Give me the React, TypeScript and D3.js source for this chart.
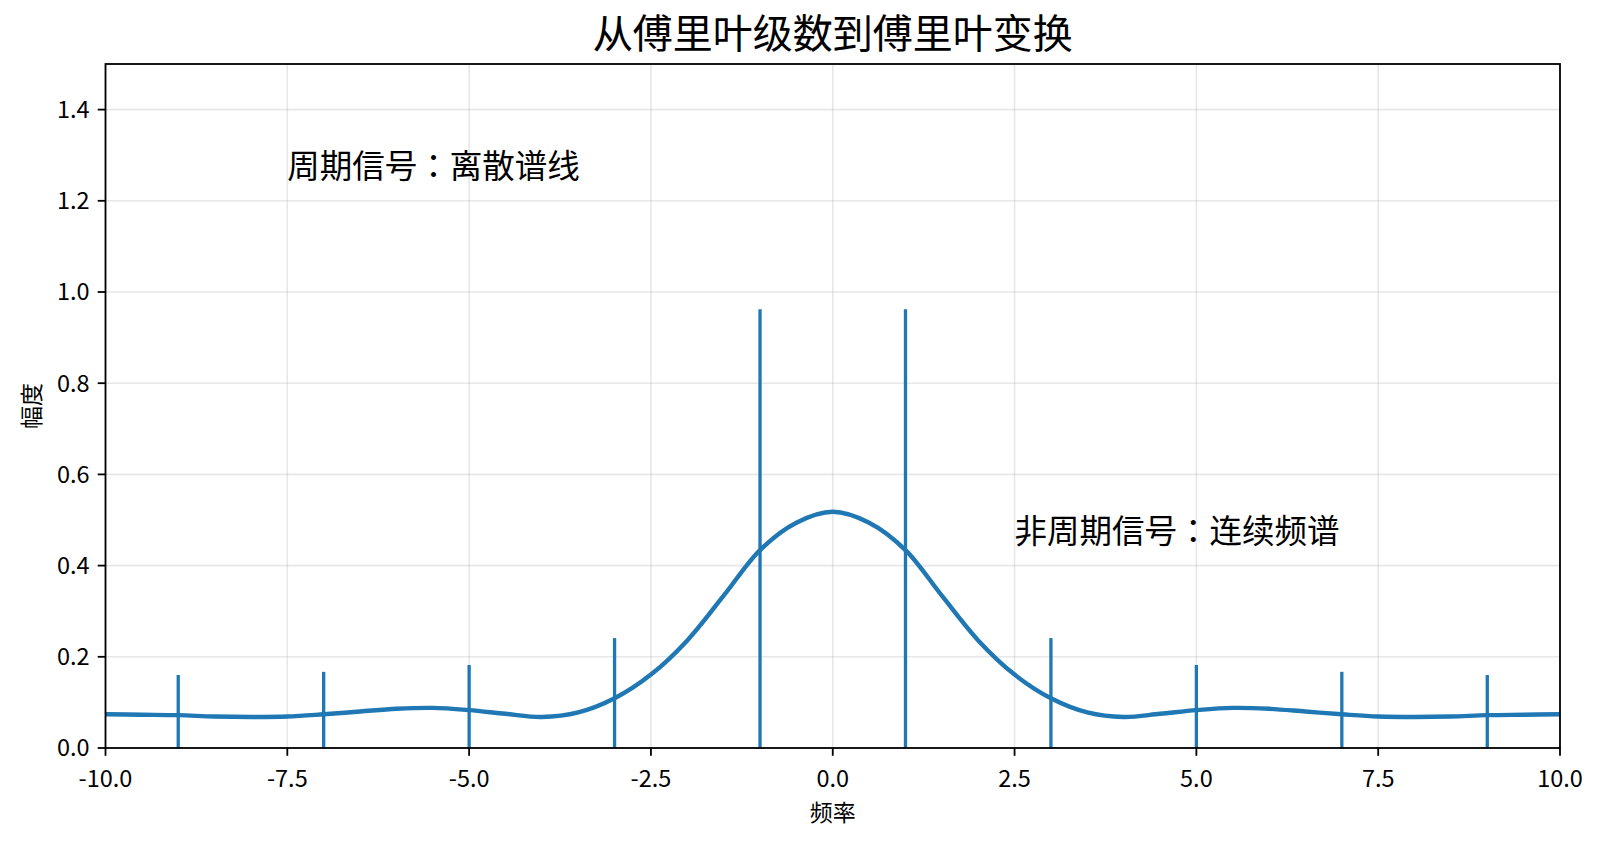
import React from "react";
import * as d3 from "d3";

// discrete spectrum lines (periodic signal)
const stemFreqs = [-9, -7, -5, -3, -1, 1, 3, 5, 7, 9];
const stemAmps = [0.16, 0.167, 0.182, 0.241, 0.962, 0.962, 0.241, 0.182, 0.167, 0.16];

// continuous spectrum (aperiodic signal), every 0.5
const curveFreqs = [
  -10, -9.5, -9, -8.5, -8, -7.5, -7, -6.5, -6, -5.5, -5, -4.5, -4, -3.5, -3, -2.5, -2, -1.5, -1, -0.5,
  0, 0.5, 1, 1.5, 2, 2.5, 3, 3.5, 4, 4.5, 5, 5.5, 6, 6.5, 7, 7.5, 8, 8.5, 9, 9.5, 10,
];
const curveAmps = [
  0.074, 0.073, 0.072, 0.069, 0.068, 0.069, 0.074, 0.08, 0.086, 0.088, 0.083, 0.075, 0.068, 0.078, 0.109,
  0.161, 0.236, 0.334, 0.434, 0.494, 0.518, 0.494, 0.434, 0.334, 0.236, 0.161, 0.109, 0.078, 0.068, 0.075,
  0.083, 0.088, 0.086, 0.08, 0.074, 0.069, 0.068, 0.069, 0.072, 0.073, 0.074,
];

const xTicks = [-10, -7.5, -5, -2.5, 0, 2.5, 5, 7.5, 10];
const yTicks = [0, 0.2, 0.4, 0.6, 0.8, 1.0, 1.2, 1.4];

const title = "从傅里叶级数到傅里叶变换";
const xLabel = "频率";
const yLabel = "幅度";
const notes = [
  { x: -7.5, y: 1.25, text: "周期信号：离散谱线" },
  { x: 2.5, y: 0.45, text: "非周期信号：连续频谱" },
];

const W = 1602;
const H = 846;
const margin = { top: 64, right: 42, bottom: 98, left: 105.5 };
const blue = "#1f77b4";
const font = "'Noto Sans CJK JP', 'Noto Sans CJK SC', 'Noto Sans', sans-serif";

export default function App() {
  const x = d3.scaleLinear().domain([-10, 10]).range([margin.left, W - margin.right]);
  const y = d3.scaleLinear().domain([0, 1.5]).range([H - margin.bottom, margin.top]);

  const pts = curveFreqs.map((f, i) => [f, curveAmps[i]] as [number, number]);
  const line = d3
    .line<[number, number]>()
    .x((d) => x(d[0]))
    .y((d) => y(d[1]))
    .curve(d3.curveCatmullRom.alpha(0.5));

  const x0 = x(-10), x1 = x(10), yb = y(0), yt = y(1.5);

  return (
    <div style={{ position: "fixed", left: 0, top: 0, width: W, height: H, background: "#fff" }}>
      <svg width={W} height={H} style={{ display: "block", fontFamily: font }}>
        <rect width={W} height={H} fill="#fff" />
        <defs>
          <clipPath id="plot">
            <rect x={x0} y={yt} width={x1 - x0} height={yb - yt} />
          </clipPath>
        </defs>

        {/* grid */}
        <g stroke="#b0b0b0" strokeOpacity={0.3} strokeWidth={1.6}>
          {xTicks.map((t) => (
            <line key={"gx" + t} x1={x(t)} x2={x(t)} y1={yt} y2={yb} />
          ))}
          {yTicks.map((t) => (
            <line key={"gy" + t} x1={x0} x2={x1} y1={y(t)} y2={y(t)} />
          ))}
        </g>

        <g clipPath="url(#plot)">
          <path d={line(pts) || ""} fill="none" stroke={blue} strokeWidth={4.4} strokeLinejoin="round" />
          {stemFreqs.map((f, i) => (
            <line key={"s" + f} x1={x(f)} x2={x(f)} y1={y(0)} y2={y(stemAmps[i])} stroke={blue} strokeWidth={3.3} />
          ))}
        </g>

        {/* frame */}
        <rect x={x0} y={yt} width={x1 - x0} height={yb - yt} fill="none" stroke="#000" strokeWidth={1.8} />

        {/* x axis */}
        <g fontSize={23.5} fill="#000" textAnchor="middle">
          {xTicks.map((t) => (
            <g key={"xt" + t}>
              <line x1={x(t)} x2={x(t)} y1={yb} y2={yb + 7.8} stroke="#000" strokeWidth={1.8} />
              <text x={x(t)} y={yb + 39}>{t.toFixed(1)}</text>
            </g>
          ))}
        </g>

        {/* y axis */}
        <g fontSize={23.5} fill="#000" textAnchor="end">
          {yTicks.map((t) => (
            <g key={"yt" + t}>
              <line x1={x0 - 7.8} x2={x0} y1={y(t)} y2={y(t)} stroke="#000" strokeWidth={1.8} />
              <text x={x0 - 16} y={y(t) + 8.3}>{t.toFixed(1)}</text>
            </g>
          ))}
        </g>

        <text x={(x0 + x1) / 2} y={821} fontSize={23} textAnchor="middle">{xLabel}</text>
        <text transform={`translate(40,${(yt + yb) / 2}) rotate(-90)`} fontSize={23} textAnchor="middle">
          {yLabel}
        </text>

        <text x={(x0 + x1) / 2} y={48} fontSize={40} textAnchor="middle">{title}</text>

        {notes.map((n) => (
          <text key={n.text} x={x(n.x)} y={y(n.y)} fontSize={32.5}>{n.text}</text>
        ))}
      </svg>
    </div>
  );
}
